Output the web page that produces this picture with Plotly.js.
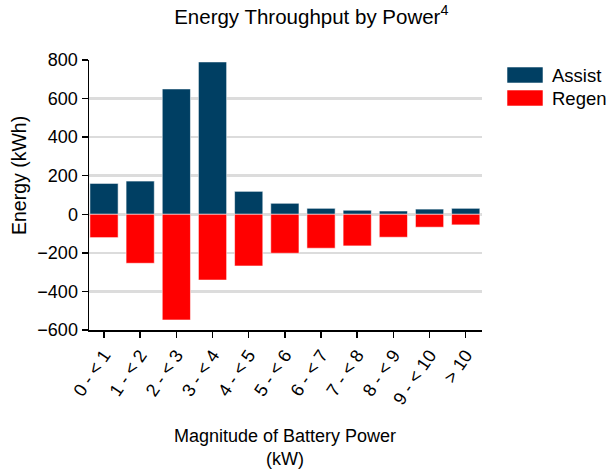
<!DOCTYPE html>
<html>
<head>
<meta charset="utf-8">
<script src="https://cdn.plot.ly/plotly-3.0.1.min.js"></script>
<style>html,body{margin:0;padding:0;background:#fff;}#chart{width:608px;height:472px;}</style>
</head>
<body>
<div id="chart"></div>
<script>
const categories = ["0 - < 1","1 - < 2","2 - < 3","3 - < 4","4 - < 5","5 - < 6","6 - < 7","7 - < 8","8 - < 9","9 - < 10","> 10"];
const assist = [160, 172, 650, 790, 119, 57, 31, 21, 17, 27, 31];
const regen = [-121, -254, -548, -341, -268, -202, -176, -164, -119, -67, -55];
const yTicks = [-600, -400, -200, 0, 200, 400, 600, 800];
const seriesNames = ["Assist", "Regen"];
const colors = ["#003f63", "#ff0000"];

const font = "Liberation Sans, Arial, sans-serif";
const idx = categories.map((c, i) => i);

const traces = [
  {type: "bar", x: idx, y: assist, name: seriesNames[0], marker: {color: colors[0], line: {color: "rgba(255,255,255,0.55)", width: 1}}, showlegend: false},
  {type: "bar", x: idx, y: regen, name: seriesNames[1], marker: {color: colors[1], line: {color: "rgba(255,255,255,0.55)", width: 1}}, showlegend: false}
];

const layout = {
  width: 608, height: 472,
  margin: {l: 89, r: 126, t: 60, b: 142},
  paper_bgcolor: "#fff", plot_bgcolor: "#fff",
  barmode: "relative", bargap: 0.22,
  font: {family: font, color: "#000", size: 18},
  title: {text: "Energy Throughput by Power<sup>4</sup>", x: 0.512, xref: "container", xanchor: "center", y: 0.965, yref: "container", yanchor: "middle", font: {family: font, size: 20.5, color: "#000"}},
  xaxis: {
    range: [-0.415, 10.45], tickmode: "array", tickvals: idx, ticktext: categories,
    tickangle: -56, ticks: "outside", ticklen: 6, tickwidth: 1.5, tickcolor: "#000",
    showline: true, linecolor: "#000", linewidth: 1.5, showgrid: false, zeroline: false,
    tickfont: {family: font, size: 18, color: "#000"}
  },
  yaxis: {
    range: [-600, 800], tickmode: "array", tickvals: yTicks,
    ticks: "outside", ticklen: 6, tickwidth: 1.5, tickcolor: "#000",
    showline: true, linecolor: "#000", linewidth: 1.5,
    showgrid: true, gridcolor: "#dcdcdc", gridwidth: 2.5, zeroline: false,
    tickfont: {family: font, size: 18, color: "#000"}
  },
  shapes: [
    {type: "rect", xref: "paper", yref: "paper", x0: (507-89)/393, x1: (543-89)/393, y0: (330-83)/270, y1: (330-67)/270, fillcolor: colors[0], line: {color: "rgba(255,255,255,0.55)", width: 1}},
    {type: "rect", xref: "paper", yref: "paper", x0: (507-89)/393, x1: (543-89)/393, y0: (330-106)/270, y1: (330-90)/270, fillcolor: colors[1], line: {color: "rgba(255,255,255,0.55)", width: 1}}
  ],
  annotations: [
    {text: seriesNames[0], xref: "paper", yref: "paper", x: (550-89)/393, y: (330-75)/270, xanchor: "left", yanchor: "middle", showarrow: false, font: {family: font, size: 18.5, color: "#000"}},
    {text: seriesNames[1], xref: "paper", yref: "paper", x: (550-89)/393, y: (330-98)/270, xanchor: "left", yanchor: "middle", showarrow: false, font: {family: font, size: 18.5, color: "#000"}},
    {text: "Energy (kWh)", xref: "paper", yref: "paper", x: (19-89)/393, y: (330-176)/270, xanchor: "center", yanchor: "middle", textangle: -90, showarrow: false, font: {family: font, size: 19.5, color: "#000"}},
    {text: "Magnitude of Battery Power<br>(kW)", xref: "paper", yref: "paper", x: (285-89)/393, y: (330-447)/270, xanchor: "center", yanchor: "middle", showarrow: false, font: {family: font, size: 18, color: "#000"}}
  ]
};

Plotly.newPlot("chart", traces, layout, {displayModeBar: false, staticPlot: true});
</script>
</body>
</html>
